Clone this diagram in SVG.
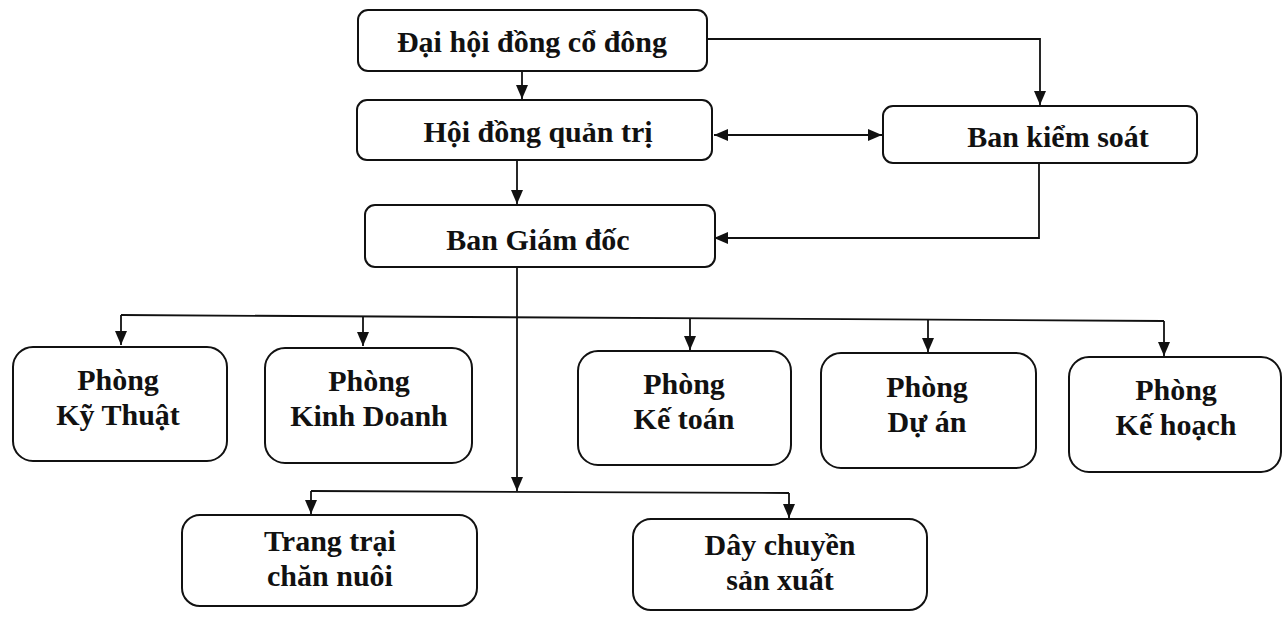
<svg xmlns="http://www.w3.org/2000/svg" width="1285" height="621" viewBox="0 0 1285 621">
<defs>
<style>
.box{fill:#fff;stroke:#111;stroke-width:2}
.t{font-family:"Liberation Serif","Times New Roman",serif;font-weight:bold;font-size:30px;fill:#111;text-anchor:middle}
.c{fill:none;stroke:#111;stroke-width:1.8}
</style>
<marker id="ah" viewBox="0 0 14 12" refX="14" refY="6" markerWidth="14" markerHeight="12" markerUnits="userSpaceOnUse" orient="auto-start-reverse">
<path d="M0,0 L14,6 L0,12 z" fill="#111"/>
</marker>
</defs>
<rect width="1285" height="621" fill="#fff"/>
<g id="connectors">
<path class="c" d="M522,71 V99" marker-end="url(#ah)"/>
<path class="c" d="M707,39 H1040 V105" marker-end="url(#ah)"/>
<path class="c" d="M714,135 H882" marker-start="url(#ah)" marker-end="url(#ah)"/>
<path class="c" d="M517,160 V204" marker-end="url(#ah)"/>
<path class="c" d="M1039,163 V238 H714" marker-end="url(#ah)"/>
<path class="c" d="M517,268 V491" marker-end="url(#ah)"/>
<path class="c" d="M121,315 L1164,321"/>
<path class="c" d="M121,315 V345" marker-end="url(#ah)"/>
<path class="c" d="M363,316 V346" marker-end="url(#ah)"/>
<path class="c" d="M690,318 V350" marker-end="url(#ah)"/>
<path class="c" d="M928,320 V352" marker-end="url(#ah)"/>
<path class="c" d="M1164,321 V356" marker-end="url(#ah)"/>
<path class="c" d="M311,491 L789,493"/>
<path class="c" d="M311,491 V514" marker-end="url(#ah)"/>
<path class="c" d="M789,493 V518" marker-end="url(#ah)"/>
</g>
<g id="dhdcd"><rect class="box" x="358" y="10" width="349" height="61" rx="10"/><text class="t" x="532" y="52">Đại hội đồng cổ đông</text></g>
<g id="hdqt"><rect class="box" x="357" y="100" width="355" height="60" rx="10"/><text class="t" x="538" y="142">Hội đồng quản trị</text></g>
<g id="bks"><rect class="box" x="883" y="106" width="314" height="57" rx="10"/><text class="t" x="1058" y="147">Ban kiểm soát</text></g>
<g id="bgd"><rect class="box" x="365" y="205" width="350" height="62" rx="10"/><text class="t" x="538" y="250">Ban Giám đốc</text></g>
<g id="kythuat"><rect class="box" x="13" y="347" width="214" height="114" rx="20"/><text class="t" x="118" y="390">Phòng</text><text class="t" x="118" y="425">Kỹ Thuật</text></g>
<g id="kinhdoanh"><rect class="box" x="265" y="348" width="207" height="115" rx="20"/><text class="t" x="369" y="391">Phòng</text><text class="t" x="369" y="426">Kinh Doanh</text></g>
<g id="ketoan"><rect class="box" x="578" y="351" width="213" height="114" rx="20"/><text class="t" x="684" y="394">Phòng</text><text class="t" x="684" y="429">Kế toán</text></g>
<g id="duan"><rect class="box" x="821" y="353" width="215" height="115" rx="20"/><text class="t" x="927" y="397">Phòng</text><text class="t" x="927" y="432">Dự án</text></g>
<g id="kehoach"><rect class="box" x="1069" y="357" width="212" height="115" rx="20"/><text class="t" x="1176" y="400">Phòng</text><text class="t" x="1176" y="435">Kế hoạch</text></g>
<g id="trangtrai"><rect class="box" x="182" y="515" width="295" height="91" rx="18"/><text class="t" x="330" y="551">Trang trại</text><text class="t" x="330" y="586">chăn nuôi</text></g>
<g id="daychuyen"><rect class="box" x="633" y="519" width="294" height="91" rx="18"/><text class="t" x="780" y="555">Dây chuyền</text><text class="t" x="780" y="590">sản xuất</text></g>
</svg>
